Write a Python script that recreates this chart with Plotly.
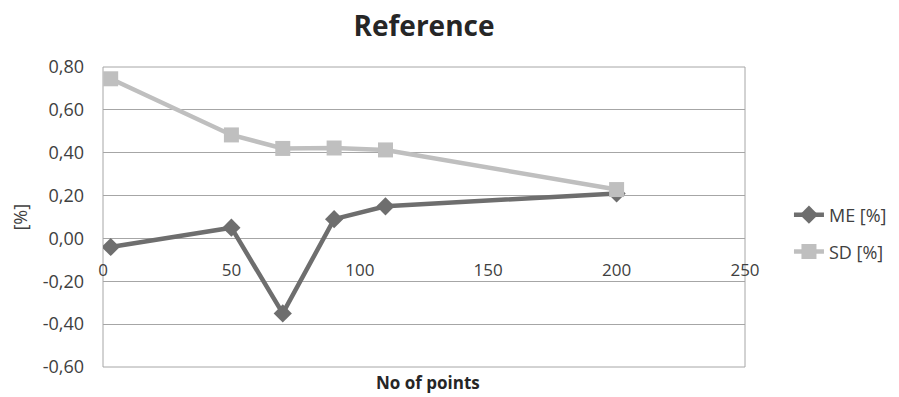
import plotly.graph_objects as go

x_points = [3, 50, 70, 90, 110, 200]
me_values = [-0.04, 0.05, -0.35, 0.09, 0.15, 0.21]
sd_values = [0.745, 0.483, 0.42, 0.422, 0.413, 0.228]

y_ticks = [-0.6, -0.4, -0.2, 0.0, 0.2, 0.4, 0.6, 0.8]
y_labels = ["-0,60", "-0,40", "-0,20", "0,00", "0,20", "0,40", "0,60", "0,80"]
x_ticks = [0, 50, 100, 150, 200, 250]

font = "Open Sans, Liberation Sans, sans-serif"
grid = "#a6a6a6"

fig = go.Figure()
fig.add_trace(go.Scatter(
    x=x_points, y=me_values, name="ME [%]", mode="lines+markers",
    line=dict(color="#6e6e6e", width=4.5),
    marker=dict(symbol="diamond", size=14, color="#6e6e6e"),
    legend="legend",
))
fig.add_trace(go.Scatter(
    x=x_points, y=sd_values, name="SD [%]", mode="lines+markers",
    line=dict(color="#bfbfbf", width=4.5),
    marker=dict(symbol="square", size=15, color="#bfbfbf"),
    legend="legend2",
))

leg_common = dict(xanchor="left", yanchor="middle", xref="container", yref="container",
                  bgcolor="rgba(0,0,0,0)", font=dict(size=18, color="#404040"))

fig.update_layout(
    width=891, height=389,
    margin=dict(l=95, r=154, t=59, b=30),
    paper_bgcolor="white", plot_bgcolor="white",
    font=dict(family=font, color="#404040", size=16),
    title=dict(text="<b>Reference</b>", x=0.5, xanchor="center", y=0.952, yanchor="middle",
               xref="paper", font=dict(size=28, color="#262626", family=font)),
    showlegend=True,
    legend=dict(x=0.8765, y=0.468, **leg_common),
    legend2=dict(x=0.8765, y=0.373, **leg_common),
    xaxis=dict(range=[0, 250], tickvals=x_ticks, showgrid=False, zeroline=False,
               anchor="free", position=0.6 / 1.4,
               showline=False, ticks="", ticklabelstandoff=20,
               tickfont=dict(size=17, color="#404040")),
    yaxis=dict(range=[-0.6, 0.8], tickvals=y_ticks, ticktext=y_labels,
               showgrid=True, gridcolor=grid, gridwidth=1,
               zeroline=True, zerolinecolor=grid, zerolinewidth=1,
               showline=False, ticks="", ticklabelstandoff=18,
               tickfont=dict(size=18, color="#404040")),
    shapes=[dict(type="rect", xref="paper", yref="paper", x0=0, x1=1, y0=0, y1=1,
                 line=dict(color=grid, width=1), layer="below")],
)
fig.add_annotation(text="<b>No of points</b>", x=0.506, y=-0.053, xref="paper", yref="paper",
                   showarrow=False, yanchor="middle", xanchor="center",
                   font=dict(size=17, color="#262626"))
fig.add_annotation(text="[%]", x=-0.13, y=0.5, xref="paper", yref="paper",
                   showarrow=False, textangle=-90, xanchor="center", yanchor="middle",
                   font=dict(size=18, color="#404040"))
fig.write_html("out.html")
